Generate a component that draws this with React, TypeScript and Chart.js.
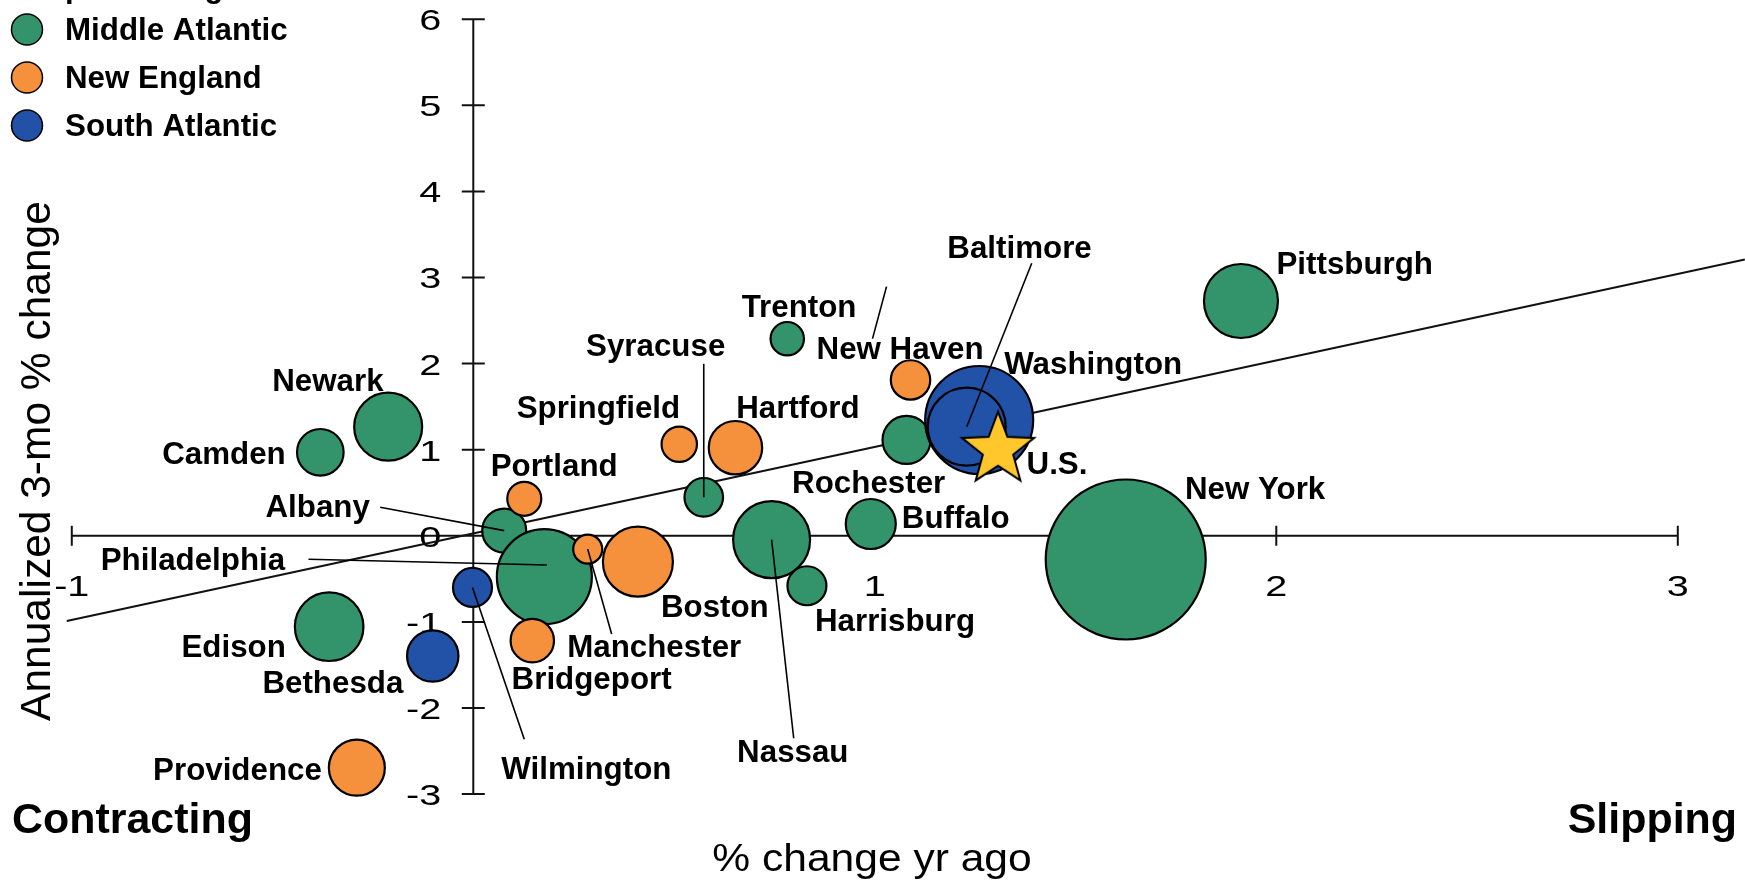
import React, { useEffect, useRef } from "react";
import { Chart, registerables } from "chart.js";
Chart.register(...registerables);

const W = 1745;
const H = 880;

// ---------- DATA ----------
const regionNames = ["Middle Atlantic", "New England", "South Atlantic"];
const regionColors = ["#33946B", "#F5903D", "#2152A8"];

const maNames = ["Pittsburgh", "Trenton", "Rochester", "Buffalo", "New York", "Syracuse", "Albany", "Philadelphia", "Nassau", "Harrisburg", "Edison", "Camden", "Newark"];
const maX = [1.912, 0.782, 1.079, 0.99, 1.625, 0.574, 0.077, 0.177, 0.743, 0.831, -0.359, -0.381, -0.212];
const maY = [2.727, 2.289, 1.113, 0.137, -0.275, 0.447, 0.06, -0.475, -0.045, -0.58, -1.056, 0.97, 1.267];
const maR = [37, 16.7, 24, 25, 80, 19.3, 22, 47.5, 38.5, 19.5, 34.3, 23.3, 34];

const neNames = ["New Haven", "Hartford", "Springfield", "Portland", "Manchester", "Boston", "Bridgeport", "Providence"];
const neX = [1.089, 0.653, 0.513, 0.127, 0.285, 0.41, 0.147, -0.29];
const neY = [1.81, 1.023, 1.063, 0.43, -0.155, -0.3, -1.218, -2.693];
const neR = [19.7, 26.7, 17.7, 17, 14.5, 35, 21.7, 28];

const saNames = ["Washington", "Baltimore", "Wilmington", "Bethesda"];
const saX = [1.26, 1.229, -0.002, -0.101];
const saY = [1.345, 1.267, -0.6, -1.396];
const saR = [54, 39, 19.5, 25.7];

const usName = "U.S.";
const usX = 1.307;
const usY = 1.022;

const trendX = [-1.0125, 3.167];
const trendY = [-0.99, 3.21];

const xTicks = [-1, 0, 1, 2, 3];
const yTicks = [-3, -2, -1, 0, 1, 2, 3, 4, 5, 6];

const xTitle = "% change yr ago";
const yTitle = "Annualized 3-mo % change";
const leftNote = "Contracting";
const rightNote = "Slipping";
const legendTitle = "Metropolitan region";

// ---------- LABEL LAYOUT (pixel offsets from the mark) ----------
type Lay = { dx: number; dy: number; align?: CanvasTextAlign; lead?: [number, number, number, number] };
const layout: Record<string, Lay> = {
  Pittsburgh: { dx: 35.5, dy: -26.7 },
  Trenton: { dx: -45.6, dy: -22 },
  "New Haven": { dx: -94, dy: -20.5, lead: [-24, -93.3, -38, -41.3] },
  Washington: { dx: 25, dy: -46 },
  Baltimore: { dx: -19.4, dy: -168.4, lead: [65, -163.4, 0, 0] },
  "U.S.": { dx: 28.5, dy: 26.2 },
  Rochester: { dx: -114.4, dy: 53.3 },
  Buffalo: { dx: 31, dy: 4.3 },
  "New York": { dx: 59.2, dy: -60.2 },
  Hartford: { dx: 0.7, dy: -29.4 },
  Springfield: { dx: -162.6, dy: -26 },
  Syracuse: { dx: -117.7, dy: -141.5, lead: [0, -133.5, 0, 0] },
  Portland: { dx: -33.6, dy: -22.7 },
  Albany: { dx: -238.7, dy: -14, lead: [-124, -23.4, 0, 0] },
  Philadelphia: { dx: -259.2, dy: -6.7, align: "right", lead: [-235.9, -17.4, 2.5, -11.7] },
  Manchester: { dx: -20.5, dy: 108.1, lead: [0, 0, 23.9, 84.8] },
  Boston: { dx: 23, dy: 55.6 },
  Nassau: { dx: -34.5, dy: 222, lead: [0, 0, 22.1, 198.6] },
  Harrisburg: { dx: 8, dy: 45 },
  Bridgeport: { dx: -20.7, dy: 48.3 },
  Wilmington: { dx: 28.8, dy: 191.8, lead: [0, 0, 51.8, 151.8] },
  Bethesda: { dx: -29.4, dy: 37.3, align: "right" },
  Edison: { dx: -43.3, dy: 30, align: "right" },
  Providence: { dx: -35, dy: 12.3, align: "right" },
  Camden: { dx: -34.6, dy: 12, align: "right" },
  Newark: { dx: -116, dy: -36 },
};

const FONT = "'Liberation Sans', Arial, sans-serif";

function txt(ctx: CanvasRenderingContext2D, s: string, x: number, y: number, font: string, align: CanvasTextAlign = "left", sx = 1) {
  ctx.save();
  ctx.translate(x, y);
  ctx.scale(sx, 1);
  ctx.font = font;
  ctx.textAlign = align;
  ctx.textBaseline = "alphabetic";
  ctx.fillStyle = "#000";
  ctx.fillText(s, 0, 0);
  ctx.restore();
}

function makeStar(R: number): HTMLCanvasElement {
  const c = document.createElement("canvas");
  const s = Math.ceil(2 * R + 6);
  c.width = s;
  c.height = s;
  const g = c.getContext("2d")!;
  const cx = s / 2, cy = s / 2 + R * 0.05;
  const r = R * 0.42;
  g.beginPath();
  for (let i = 0; i < 10; i++) {
    const a = -Math.PI / 2 + (i * Math.PI) / 5;
    const rr = i % 2 === 0 ? R : r;
    const px = cx + rr * Math.cos(a), py = cy + rr * Math.sin(a);
    if (i === 0) g.moveTo(px, py); else g.lineTo(px, py);
  }
  g.closePath();
  g.fillStyle = "#FFC72C";
  g.fill();
  g.lineWidth = 2;
  g.strokeStyle = "#000";
  g.lineJoin = "miter";
  g.stroke();
  return c;
}

export default function App() {
  const ref = useRef<HTMLCanvasElement | null>(null);

  useEffect(() => {
    document.body.style.margin = "0";
    const canvas = ref.current!;
    const mk = (xs: number[], ys: number[], rs: number[]) => xs.map((x, i) => ({ x, y: ys[i], r: rs[i] }));
    const groups = [
      { names: maNames, data: mk(maX, maY, maR) },
      { names: neNames, data: mk(neX, neY, neR) },
      { names: saNames, data: mk(saX, saY, saR) },
    ];

    const star = makeStar(38);

    const overlay = {
      id: "overlay",
      beforeDatasetsDraw(chart: any) {
        const ctx: CanvasRenderingContext2D = chart.ctx;
        const xs = chart.scales.x, ys = chart.scales.y;
        const X = (v: number) => xs.getPixelForValue(v);
        const Y = (v: number) => ys.getPixelForValue(v);
        ctx.save();
        ctx.strokeStyle = "#111";
        ctx.lineWidth = 2;
        ctx.beginPath();
        ctx.moveTo(X(xTicks[0]), Y(0));
        ctx.lineTo(X(xTicks[xTicks.length - 1]), Y(0));
        for (const t of xTicks) {
          if (t === 0) continue;
          ctx.moveTo(X(t), Y(0) - 10);
          ctx.lineTo(X(t), Y(0) + 10);
        }
        ctx.moveTo(X(0), Y(yTicks[yTicks.length - 1]));
        ctx.lineTo(X(0), Y(yTicks[0]));
        for (const t of yTicks) {
          ctx.moveTo(X(0) - 11.5, Y(t));
          ctx.lineTo(X(0) + 11.5, Y(t));
        }
        ctx.stroke();
        for (const t of xTicks) {
          txt(ctx, String(t), X(t), Y(0) + 60, `30px ${FONT}`, "center", 1.32);
        }
        for (const t of yTicks) {
          txt(ctx, String(t), X(0) - 32, Y(t) + 11, `30px ${FONT}`, "right", 1.32);
        }
        ctx.restore();
      },
      afterDatasetsDraw(chart: any) {
        const ctx: CanvasRenderingContext2D = chart.ctx;
        const xs = chart.scales.x, ys = chart.scales.y;
        const X = (v: number) => xs.getPixelForValue(v);
        const Y = (v: number) => ys.getPixelForValue(v);
        const items: { name: string; x: number; y: number }[] = [];
        groups.forEach((g) => g.names.forEach((n, i) => items.push({ name: n, x: g.data[i].x, y: g.data[i].y })));
        items.push({ name: usName, x: usX, y: usY });
        ctx.save();
        ctx.strokeStyle = "#000";
        ctx.lineWidth = 1.6;
        for (const it of items) {
          const L = layout[it.name];
          if (!L || !L.lead) continue;
          const cx = X(it.x), cy = Y(it.y);
          ctx.beginPath();
          ctx.moveTo(cx + L.lead[0], cy + L.lead[1]);
          ctx.lineTo(cx + L.lead[2], cy + L.lead[3]);
          ctx.stroke();
        }
        for (const it of items) {
          const L = layout[it.name];
          if (!L) continue;
          const cx = X(it.x), cy = Y(it.y);
          txt(ctx, it.name, cx + L.dx, cy + L.dy, `bold 31px ${FONT}`, L.align || "left", 1.01);
        }
        regionNames.forEach((n, i) => {
          const cy = 29.5 + i * 48;
          ctx.beginPath();
          ctx.arc(27, cy, 15.5, 0, Math.PI * 2);
          ctx.fillStyle = regionColors[i];
          ctx.fill();
          ctx.lineWidth = 1.5;
          ctx.strokeStyle = "#000";
          ctx.stroke();
          txt(ctx, n, 65, cy + 10, `bold 31px ${FONT}`, "left", 1.01);
        });
        txt(ctx, legendTitle, -19.4, -3.5, `bold 31px ${FONT}`, "left", 1);
        txt(ctx, leftNote, 12, 833, `bold 42.5px ${FONT}`, "left", 1.01);
        txt(ctx, rightNote, 1737, 833, `bold 42.5px ${FONT}`, "right", 1.01);
        txt(ctx, xTitle, 872, 871, `38px ${FONT}`, "center", 1.12);
        ctx.save();
        ctx.translate(50, 461);
        ctx.rotate(-Math.PI / 2);
        txt(ctx, yTitle, 0, 0, `42.5px ${FONT}`, "center", 1);
        ctx.restore();
        ctx.restore();
      },
    };

    const chart = new Chart(canvas, {
      type: "bubble",
      data: {
        datasets: [
          {
            type: "line" as any,
            label: "trend",
            data: trendX.map((x, i) => ({ x, y: trendY[i] })),
            borderColor: "#111",
            borderWidth: 2,
            pointRadius: 0,
            fill: false,
            order: 10,
          } as any,
          ...groups.map((g, i) => ({
            label: regionNames[i],
            data: g.data,
            backgroundColor: regionColors[i],
            borderColor: "#000",
            borderWidth: 2.2,
            order: 5 - i,
          })),
          {
            label: usName,
            data: [{ x: usX, y: usY, r: 38 }],
            pointStyle: star as any,
            backgroundColor: "#FFC72C",
            borderColor: "#000",
            order: 0,
          } as any,
        ],
      },
      options: {
        responsive: false,
        animation: false,
        devicePixelRatio: 1,
        layout: { padding: 0, autoPadding: false },
        plugins: { legend: { display: false }, tooltip: { enabled: false }, title: { display: false } },
        scales: {
          x: { type: "linear", min: -1.1788, max: 3.1674, display: false },
          y: { type: "linear", min: -3.9977, max: 6.223, display: false },
        },
        events: [],
      },
      plugins: [overlay],
    });
    return () => chart.destroy();
  }, []);

  return (
    <div style={{ position: "absolute", left: 0, top: 0, width: W, height: H, background: "#fff" }}>
      <canvas ref={ref} width={W} height={H} style={{ display: "block", width: W, height: H }} />
    </div>
  );
}
